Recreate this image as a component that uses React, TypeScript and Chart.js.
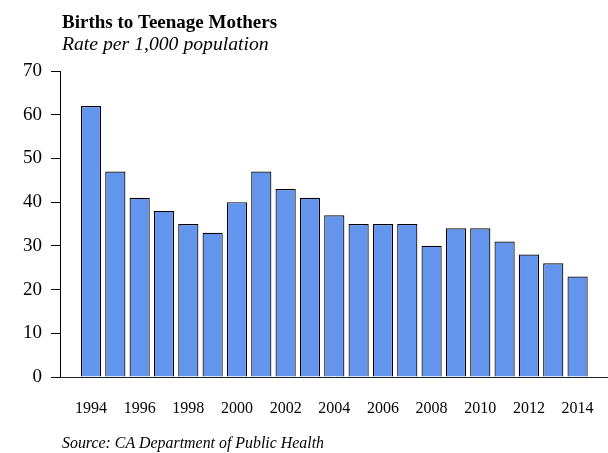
import React, { useEffect, useRef } from "react";
import { Chart, registerables } from "chart.js";

Chart.register(...registerables);

const years = [1994, 1995, 1996, 1997, 1998, 1999, 2000, 2001, 2002, 2003, 2004, 2005, 2006, 2007, 2008, 2009, 2010, 2011, 2012, 2013, 2014];
const rates = [62, 47, 41, 38, 35, 33, 40, 47, 43, 41, 37, 35, 35, 35, 30, 34, 34, 31, 28, 26, 23];
const xTickYears = [1994, 1996, 1998, 2000, 2002, 2004, 2006, 2008, 2010, 2012, 2014];
const yTicks = [0, 10, 20, 30, 40, 50, 60, 70];

const titleText = "Births to Teenage Mothers";
const subtitleText = "Rate per 1,000 population";
const sourceText = "Source: CA Department of Public Health";

const FONT = '"Liberation Serif", "Times New Roman", serif';

const textPlugin = {
  id: "texts",
  afterDraw(chart: any) {
    const ctx = chart.ctx;
    ctx.save();
    ctx.fillStyle = "#000";
    ctx.textAlign = "left";
    ctx.textBaseline = "alphabetic";
    ctx.font = `bold 19px ${FONT}`;
    ctx.fillText(titleText, 62, 28);
    ctx.font = `italic 19.7px ${FONT}`;
    ctx.fillText(subtitleText, 62, 50);
    ctx.font = `italic 15.9px ${FONT}`;
    ctx.fillText(sourceText, 62, 448);
    ctx.restore();
  },
};

export default function App() {
  const ref = useRef<HTMLCanvasElement>(null);
  useEffect(() => {
    if (!ref.current) return;
    const chart = new Chart(ref.current, {
      type: "bar",
      data: {
        datasets: [
          {
            data: years.map((y, i) => ({ x: y, y: rates[i] })),
            backgroundColor: "#6495ED",
            borderColor: "#000",
            borderWidth: 1.2,
            barPercentage: 0.83,
            categoryPercentage: 1,
          },
        ],
      },
      options: {
        animation: false,
        responsive: false,
        maintainAspectRatio: false,
        layout: { padding: { top: 71, left: 0, right: 0, bottom: 0 } },
        plugins: { legend: { display: false }, tooltip: { enabled: false }, title: { display: false } },
        scales: {
          x: {
            type: "linear",
            min: 1992.726,
            max: 2015.25,
            offset: false,
            afterBuildTicks: (scale: any) => {
              scale.ticks = xTickYears.map((v) => ({ value: v }));
            },
            afterFit: (scale: any) => {
              scale.height = 76;
              scale.paddingLeft = 0;
              scale.paddingRight = 0;
            },
            grid: { display: true, drawOnChartArea: false, drawTicks: false, offset: false, color: "#000" },
            border: { display: true, color: "#222", width: 1 },
            ticks: {
              color: "#000",
              font: { family: FONT, size: 16 },
              padding: 22,
              maxRotation: 0,
              autoSkip: false,
              callback: (v: any) => String(v),
            },
          },
          y: {
            type: "linear",
            min: 0,
            max: 70,
            afterBuildTicks: (scale: any) => {
              scale.ticks = yTicks.map((v) => ({ value: v }));
            },
            afterFit: (scale: any) => {
              scale.width = 60;
            },
            grid: { display: true, drawOnChartArea: false, drawTicks: true, tickLength: 9, color: "#000" },
            border: { display: true, color: "#000", width: 1 },
            ticks: {
              color: "#000",
              font: { family: FONT, size: 19 },
              padding: 9,
            },
          },
        },
      },
      plugins: [textPlugin],
    });
    return () => chart.destroy();
  }, []);
  return (
    <div style={{ position: "fixed", left: 0, top: 0, width: 608, height: 453, background: "#fff" }}>
      <canvas ref={ref} width={608} height={453} style={{ width: 608, height: 453, display: "block" }} />
    </div>
  );
}
